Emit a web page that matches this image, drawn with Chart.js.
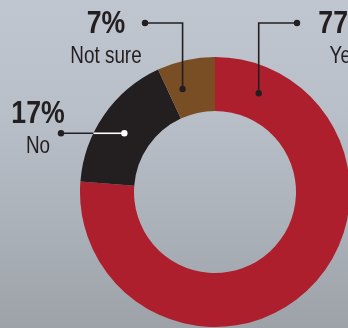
<!DOCTYPE html>
<html>
<head>
<meta charset="utf-8">
<script src="https://cdn.jsdelivr.net/npm/chart.js@4.4.1/dist/chart.umd.min.js"></script>
<style>
  html, body {
    margin: 0;
    padding: 0;
    width: 348px;
    height: 328px;
    overflow: hidden;
  }
  body {
    background: linear-gradient(to bottom, #bfc6cf 0%, #b8bfc8 35%, #adb3bb 65%, #9da2a8 100%);
  }
  #wrap { position: relative; width: 360px; height: 328px; }
</style>
</head>
<body>
<div id="wrap"><canvas id="chart" width="360" height="328"></canvas></div>
<script>
// Survey answers
const categories = ['Yes', 'No', 'Not sure'];
const values = [77, 17, 7];
const sliceColors = ['#ae1f2e', '#231f20', '#7a4e25'];

// Callout placement for each answer: text centre, baseline of the percentage,
// the end dot of the leader, and where inside the slice the leader lands
// (fraction of the slice's sweep).
const callouts = [
  { index: 0, textX: 345, pctY: 33, anchor: [297, 23], at: 0.087, elbow: 'vertical' },
  { index: 1, textX: 38,  pctY: 123, anchor: [61, 134], at: 0.47, elbow: 'flat' },
  { index: 2, textX: 106, pctY: 33, anchor: [145, 23], at: 0.3, elbow: 'vertical' }
];

const ink = '#231f20';
const pctFont = 'bold 31px "Liberation Sans", Arial, sans-serif';
const nameFont = '23px "Liberation Sans", Arial, sans-serif';

// condensed lettering: squeeze text horizontally around its centre
function condensedText(ctx, text, x, y, font, squeeze) {
  ctx.save();
  ctx.font = font;
  ctx.translate(x, y);
  ctx.scale(squeeze, 1);
  ctx.textAlign = 'center';
  ctx.textBaseline = 'alphabetic';
  ctx.fillText(text, 0, 0);
  ctx.restore();
}

const calloutPlugin = {
  id: 'callouts',
  afterDraw(chart) {
    const ctx = chart.ctx;
    const arcs = chart.getDatasetMeta(0).data;
    ctx.save();
    callouts.forEach(c => {
      const arc = arcs[c.index];
      const p = arc.getProps(['x', 'y', 'startAngle', 'endAngle', 'innerRadius', 'outerRadius'], true);
      const ang = p.startAngle + (p.endAngle - p.startAngle) * c.at;
      const r = (p.innerRadius + p.outerRadius) / 2;
      const dx = p.x + Math.cos(ang) * r;
      const dy = p.y + Math.sin(ang) * r;
      const [ax, ay] = c.anchor;

      ctx.lineWidth = 1.6;
      ctx.strokeStyle = ink;
      ctx.beginPath();
      if (c.elbow === 'vertical') {
        ctx.moveTo(ax, ay);
        ctx.lineTo(dx, ay);
        ctx.lineTo(dx, dy);
      } else {
        ctx.moveTo(ax, dy);
        ctx.lineTo(dx, dy);
      }
      ctx.stroke();

      let dotColor = ink;
      if (c.elbow === 'flat') {
        // the part of the leader lying on the dark slice is drawn in white
        const edgeX = p.x - Math.sqrt(p.outerRadius * p.outerRadius - (dy - p.y) * (dy - p.y));
        ctx.strokeStyle = '#ffffff';
        ctx.beginPath();
        ctx.moveTo(edgeX, dy);
        ctx.lineTo(dx, dy);
        ctx.stroke();
        dotColor = '#ffffff';
        ctx.fillStyle = ink;
        ctx.beginPath();
        ctx.arc(ax, dy, 3.2, 0, Math.PI * 2);
        ctx.fill();
      } else {
        ctx.fillStyle = ink;
        ctx.beginPath();
        ctx.arc(ax, ay, 3.2, 0, Math.PI * 2);
        ctx.fill();
      }
      ctx.fillStyle = dotColor;
      ctx.beginPath();
      ctx.arc(dx, dy, 3.2, 0, Math.PI * 2);
      ctx.fill();

      // texts
      ctx.fillStyle = ink;
      condensedText(ctx, values[c.index] + '%', c.textX, c.pctY, pctFont, 0.86);
      condensedText(ctx, categories[c.index], c.textX, c.pctY + 29.5, nameFont, 0.82);
    });
    ctx.restore();
  }
};

new Chart(document.getElementById('chart'), {
  type: 'doughnut',
  data: {
    labels: categories,
    datasets: [{
      data: values,
      backgroundColor: sliceColors,
      borderWidth: 0
    }]
  },
  options: {
    responsive: false,
    animation: false,
    cutout: '60%',
    layout: { padding: { left: 80, top: 57, right: 10, bottom: 1 } },
    plugins: {
      legend: { display: false },
      tooltip: { enabled: false }
    }
  },
  plugins: [calloutPlugin]
});
</script>
</body>
</html>
